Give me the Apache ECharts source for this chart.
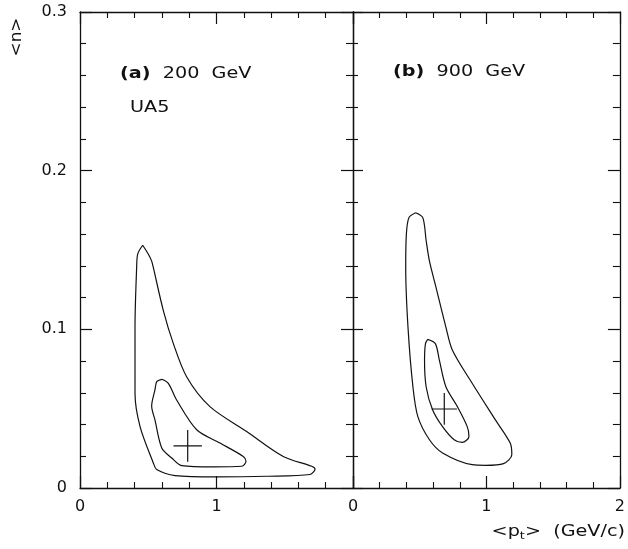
<!DOCTYPE html>
<html>
<head>
<meta charset="utf-8">
<script src="https://cdn.jsdelivr.net/npm/echarts@6/dist/echarts.min.js"></script>
<style>
  html, body { margin: 0; padding: 0; background: #fff; }
  #chart { width: 628px; height: 549px; }
</style>
</head>
<body>
<div id="chart"></div>
<script>
// Likelihood contours in the (<pt>, <n>) plane, two energies.
// Each contour is a closed path of [<pt> (GeV/c), <n>] points.

// 200 GeV, outer contour
const outer200 = [
  [0.459, 0.153], [0.500, 0.1475], [0.525, 0.143], [0.537, 0.139],
  [0.610, 0.112], [0.684, 0.091], [0.782, 0.070], [0.952, 0.0513],
  [1.221, 0.0356], [1.489, 0.0199], [1.697, 0.0137], [1.722, 0.0120],
  [1.685, 0.0085], [1.368, 0.0074], [1.001, 0.0070], [0.696, 0.0078],
  [0.562, 0.0116], [0.537, 0.0158], [0.440, 0.0387], [0.403, 0.0597],
  [0.403, 0.1014], [0.415, 0.139], [0.423, 0.1475], [0.459, 0.153]
];
// 200 GeV, inner contour
const inner200 = [
  [0.599, 0.0685], [0.647, 0.0660], [0.708, 0.0555], [0.855, 0.0367],
  [1.026, 0.0283], [1.196, 0.0199], [1.216, 0.0168], [1.185, 0.0137],
  [0.977, 0.0133], [0.745, 0.0141], [0.672, 0.0189], [0.599, 0.0252],
  [0.549, 0.0429], [0.525, 0.0517], [0.549, 0.0618], [0.562, 0.0670],
  [0.599, 0.0685]
];
// 900 GeV, outer contour
const outer900 = [
  [0.469, 0.1735], [0.523, 0.1704], [0.548, 0.156], [0.573, 0.143],
  [0.622, 0.1265], [0.696, 0.1014], [0.745, 0.0868], [0.893, 0.066],
  [1.067, 0.0429], [1.178, 0.0283], [1.190, 0.0210], [1.128, 0.0154],
  [0.993, 0.0143], [0.893, 0.0147], [0.671, 0.0221], [0.573, 0.0304],
  [0.486, 0.0450], [0.449, 0.0638], [0.412, 0.1014], [0.395, 0.139],
  [0.400, 0.160], [0.419, 0.1704], [0.469, 0.1735]
];
// 900 GeV, inner contour
const inner900 = [
  [0.560, 0.0937], [0.617, 0.0910], [0.647, 0.0806], [0.696, 0.0638],
  [0.782, 0.0513], [0.856, 0.0387], [0.869, 0.0325], [0.819, 0.0287],
  [0.758, 0.0304], [0.671, 0.0387], [0.597, 0.0492], [0.548, 0.0638],
  [0.536, 0.0806], [0.543, 0.0910], [0.560, 0.0937]
];

// Best-fit points with their half-widths: [pt, n, dpt, dn]
const best200 = [0.789, 0.0266, 0.104, 0.010];
const best900 = [0.684, 0.0498, 0.095, 0.010];

// Axis ranges and ticks
const ptRange = [0, 2];
const nRange = [0, 0.3];
const ptStep = 1;
const nStep = 0.1;

const FONT = 'DejaVu Sans';
const INK = '#111';
// the lettering is a wide face; stretch the free text horizontally
const WIDE = 1.28;

function crossArms(b) {
  return [
    [[b[0] - b[2], b[1]], [b[0] + b[2], b[1]]],
    [[b[0], b[1] - b[3]], [b[0], b[1] + b[3]]]
  ];
}

function axisCommon(extra) {
  return Object.assign({
    type: 'value',
    axisLine: { show: true, onZero: false, lineStyle: { color: INK, width: 1.3 } },
    axisTick: { show: true, inside: true, length: 12, lineStyle: { color: INK, width: 1.2 } },
    minorTick: { show: true, splitNumber: 5, length: 6, lineStyle: { color: INK, width: 1.1 } },
    splitLine: { show: false },
    minorSplitLine: { show: false },
    axisLabel: { show: false }
  }, extra);
}

const labelStyle = { show: true, color: INK, fontFamily: FONT, fontSize: 16 };

const xAxes = [];
const yAxes = [];
[0, 1].forEach(function (g) {
  xAxes.push(axisCommon({
    gridIndex: g, position: 'bottom', min: ptRange[0], max: ptRange[1], interval: ptStep,
    axisLabel: Object.assign({}, labelStyle, {
      margin: 11,
      formatter: function (v) { return (g === 0 && v === ptRange[1]) ? '' : String(v); }
    })
  }));
  xAxes.push(axisCommon({
    gridIndex: g, position: 'top', min: ptRange[0], max: ptRange[1], interval: ptStep
  }));
  yAxes.push(axisCommon({
    gridIndex: g, position: 'left', min: nRange[0], max: nRange[1], interval: nStep,
    axisTick: { show: true, inside: true, length: g === 0 ? 12 : 10, lineStyle: { color: INK, width: 1.2 } },
    minorTick: { show: true, splitNumber: 5, length: g === 0 ? 6 : 5, lineStyle: { color: INK, width: 1.1 } },
    axisLabel: g === 0 ? Object.assign({}, labelStyle, { margin: 13 }) : { show: false }
  }));
  yAxes.push(axisCommon({
    gridIndex: g, position: 'right', min: nRange[0], max: nRange[1], interval: nStep,
    axisTick: { show: true, inside: true, length: 12, lineStyle: { color: INK, width: 1.2 } },
    minorTick: { show: true, splitNumber: 5, length: 7, lineStyle: { color: INK, width: 1.1 } }
  }));
});

function contour(data, g) {
  return {
    type: 'line', xAxisIndex: g * 2, yAxisIndex: g * 2, data: data,
    smooth: 0.3, symbol: 'none', silent: true, animation: false,
    lineStyle: { color: INK, width: 1.2 }
  };
}

const series = [
  contour(outer200, 0), contour(inner200, 0),
  contour(outer900, 1), contour(inner900, 1)
];
crossArms(best200).forEach(function (arm) {
  series.push(Object.assign(contour(arm, 0), { smooth: false }));
});
crossArms(best900).forEach(function (arm) {
  series.push(Object.assign(contour(arm, 1), { smooth: false }));
});

function freeText(x, y, style, extra) {
  return Object.assign({
    type: 'text', x: x, y: y, scaleX: WIDE,
    style: Object.assign({ fontFamily: FONT, fontSize: 15, fill: INK, verticalAlign: 'middle' }, style)
  }, extra || {});
}

const boldRich = { b: { fontFamily: FONT, fontSize: 15, fontWeight: 'bold', fill: INK } };

const chart = echarts.init(document.getElementById('chart'), null, { renderer: 'canvas' });
chart.setOption({
  animation: false,
  backgroundColor: '#fff',
  grid: [
    { left: 80, top: 12, width: 273, height: 476 },
    { left: 353, top: 12, width: 270, height: 476 }
  ],
  xAxis: xAxes,
  yAxis: yAxes,
  series: series,
  graphic: [
    freeText(120, 74, { text: '{b|(a)}  200  GeV', rich: boldRich }),
    freeText(130, 108, { text: 'UA5' }),
    freeText(393, 72, { text: '{b|(b)}  900  GeV', rich: boldRich }),
    freeText(17, 37, { text: '<n>', align: 'center' }, { rotation: Math.PI / 2, scaleX: 1.12 }),
    freeText(625, 532, {
      text: '<p{s|t}>  (GeV/c)', align: 'right',
      rich: { s: { fontFamily: FONT, fontSize: 10, fill: INK, padding: [8, 0, 0, 0] } }
    })
  ]
});
</script>
</body>
</html>
